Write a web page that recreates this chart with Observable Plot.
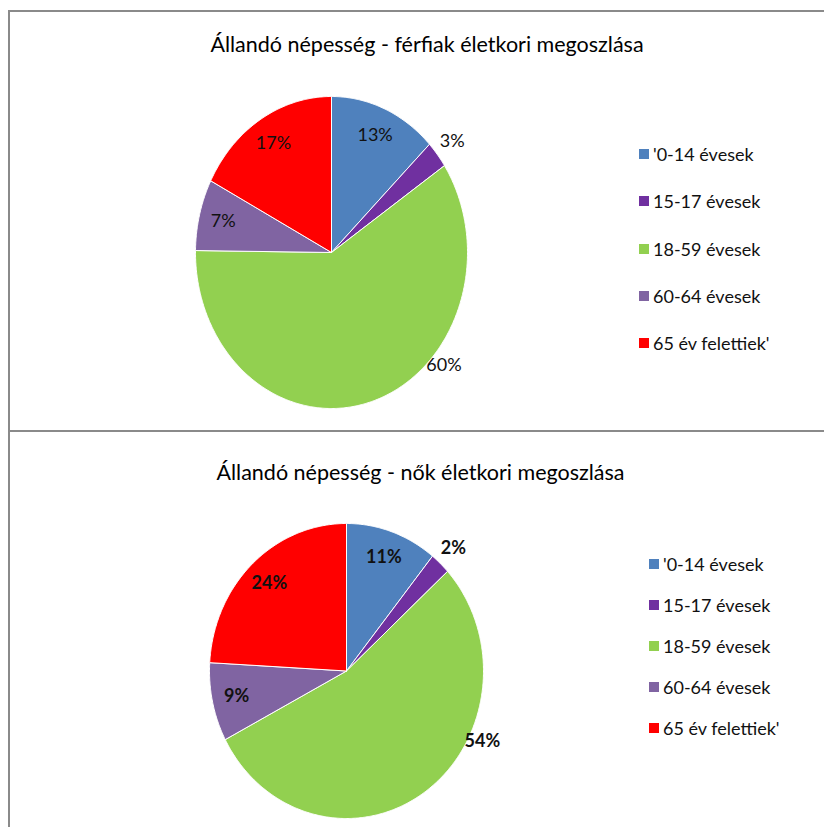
<!DOCTYPE html>
<html><head><meta charset="utf-8">
<script src="https://cdn.jsdelivr.net/npm/d3@7"></script>
<script src="https://cdn.jsdelivr.net/npm/@observablehq/plot@0.6"></script>
<style>
html,body{margin:0;padding:0;overflow:hidden;background:#fff;width:824px;height:827px;}
body{position:relative;font-family:Lato,"Open Sans",sans-serif;}
.frame{position:absolute;left:8px;top:10px;width:830px;height:830px;border-top:2px solid #8a8a8a;border-left:2px solid #8a8a8a;}
.divider{position:absolute;left:8px;top:430px;width:830px;height:0;border-top:2px solid #8a8a8a;}
.title{position:absolute;white-space:nowrap;transform:translateX(-50%);font-size:21.5px;line-height:22px;color:#000;}
.chart{position:absolute;}
.legendbox{position:absolute;width:175px;}
</style></head><body>
<div class="frame"></div><div class="divider"></div>
<div id="root"></div>
<script>
// ---- data ----
const categories = ["'0-14 évesek", "15-17 évesek", "18-59 évesek", "60-64 évesek", "65 év felettiek'"];
const colors = ["#4F81BD", "#7030A0", "#92D050", "#8064A2", "#FF0000"];
const menValues = [12.8, 2.8, 59.6, 7.4, 17.4];
const womenValues = [10.8, 2.4, 54.1, 8.6, 24.1];
const titles = ["Állandó népesség - férfiak életkori megoszlása", "Állandó népesség - nők életkori megoszlása"];

// ---- layout ----
const panels = [
  {values: menValues, title: titles[0], titleX: 427, titleTop: 33, cx: 331, cy: 252, rx: 136, ry: 156, mb: 40,
   legendX: 639, legendY: 154, legendStep: 47.25, labelWeight: "normal"},
  {values: womenValues, title: titles[1], titleX: 420.5, titleTop: 461, cx: 346, cy: 670.5, rx: 137, ry: 147.5, mb: 8,
   legendX: 649, legendY: 564, legendStep: 41, labelWeight: "bold"}
];

function pieGeometry(values) {
  const total = d3.sum(values);
  const maxV = d3.max(values);
  const pts = [], labels = [];
  let acc = 0;
  values.forEach((v, i) => {
    const cat = categories[i];
    const a0 = acc / total * 2 * Math.PI, a1 = (acc + v) / total * 2 * Math.PI;
    acc += v;
    const n = Math.max(2, Math.ceil((a1 - a0) / (Math.PI / 360)));
    pts.push({cat, x: 0, y: 0});
    for (let k = 0; k <= n; k++) {
      const a = a0 + (a1 - a0) * k / n;
      pts.push({cat, x: Math.sin(a), y: Math.cos(a)});
    }
    pts.push({cat, x: 0, y: 0});
    const share = v / total;
    let r, am;
    if (v === maxV && share > 0.5) { r = 1.1; am = a0 + (a1 - a0) * 0.35; }
    else if (share < 0.05) { r = 1.14; am = (a0 + a1) / 2; }
    else { r = 0.82; am = (a0 + a1) / 2; }
    labels.push({cat, x: r * Math.sin(am), y: r * Math.cos(am), text: Math.round(share * 100) + "%"});
  });
  return {pts, labels};
}

const root = document.getElementById("root");
const css = document.createElement("style");
let cssText = "";
panels.forEach((p, idx) => {
  const t = document.createElement("div");
  t.className = "title";
  t.textContent = p.title;
  t.style.left = p.titleX + "px";
  t.style.top = p.titleTop + "px";
  root.appendChild(t);

  const {pts, labels} = pieGeometry(p.values);
  const m = 40;
  const svg = Plot.plot({
    width: 2 * p.rx + 2 * m,
    height: 2 * p.ry + m + p.mb,
    marginLeft: m, marginRight: m, marginTop: m, marginBottom: p.mb,
    x: {domain: [-1, 1], axis: null},
    y: {domain: [-1, 1], axis: null},
    color: {domain: categories, range: colors},
    style: {fontFamily: "Lato, 'Open Sans', sans-serif", overflow: "visible", background: "transparent"},
    marks: [
      Plot.line(pts, {x: "x", y: "y", z: "cat", fill: "cat", stroke: "white", strokeWidth: 1, curve: "linear"}),
      Plot.text(labels, {x: "x", y: "y", text: "text", fontSize: 18, fill: "#111", fontWeight: p.labelWeight})
    ]
  });
  svg.classList.add("chart");
  svg.style.position = "absolute";
  svg.style.left = (p.cx - p.rx - m) + "px";
  svg.style.top = (p.cy - p.ry - m) + "px";
  root.appendChild(svg);

  const cls = "lg" + idx;
  const lg = Plot.legend({
    color: {type: "ordinal", domain: categories, range: colors, legend: "swatches"},
    columns: 1, swatchSize: 10, className: cls,
    style: {fontSize: "18px", fontFamily: "Lato, 'Open Sans', sans-serif", color: "#111"}
  });
  const box = document.createElement("div");
  box.className = "legendbox";
  box.style.left = p.legendX + "px";
  box.style.top = (p.legendY - p.legendStep / 2) + "px";
  box.appendChild(lg);
  root.appendChild(box);
  cssText += `.${cls}-swatches{margin:0 !important;width:175px !important;}
  .${cls}-swatch{height:${p.legendStep}px !important;padding:0 !important;margin:0 !important;display:flex !important;align-items:center !important;}
  .${cls}-swatch > svg{margin-right:4px !important;}
  .${cls}-swatch-label{line-height:22px;overflow:visible !important;text-overflow:clip !important;white-space:nowrap;}`;
});
css.textContent = cssText;
document.head.appendChild(css);
</script>
</body></html>
